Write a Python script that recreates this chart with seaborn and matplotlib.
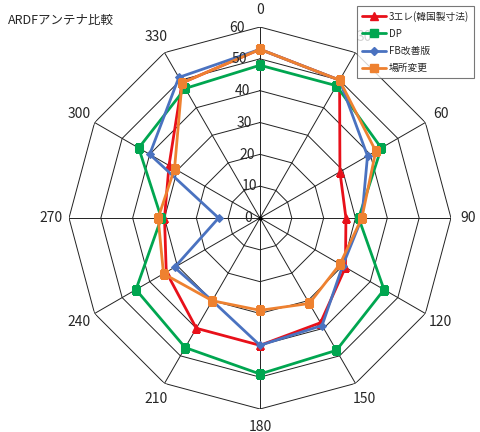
import numpy as np
import pandas as pd
import seaborn as sns
import matplotlib
matplotlib.use("Agg")
import matplotlib.pyplot as plt
from matplotlib.lines import Line2D

# Données (angle en degrés, valeur)
angles_deg = [0, 30, 60, 90, 120, 150, 180, 210, 240, 270, 300, 330]
s_3ele = [53, 50, 29, 27, 31, 38, 40, 40, 34, 30, 33, 49]
s_dp = [48, 48, 44, 31, 45, 48, 49, 47, 45, 31, 44, 47]
s_fb = [53, 50, 39, 32, 30, 39, 40, 30, 31, 13, 40, 51]
s_place = [53, 50, 42, 32, 29, 31, 29, 30, 35, 32, 31, 49]

series_names = ["3エレ(韓国製寸法)", "DP", "FB改善版", "場所変更"]
series_vals = [s_3ele, s_dp, s_fb, s_place]
colors = ["#E8101A", "#00A650", "#4A72C0", "#EE8130"]
markers = ["^", "s", "D", "s"]
msizes = [6, 6, 4, 6]

grid_levels = [0, 10, 20, 30, 40, 50, 60]

sns.set_style("white")
plt.rcParams['font.family'] = ['Noto Sans CJK JP', 'DejaVu Sans']

fig = plt.figure(figsize=(4.8, 4.32), dpi=100)
ax = fig.add_axes([0.14375, 0.0532, 0.7958, 0.8843], projection="polar")
ax.set_theta_zero_location("N")
ax.set_theta_direction(-1)
ax.set_ylim(0, 60)
ax.grid(False)
ax.spines["polar"].set_visible(False)
ax.set_xticks([])
ax.set_yticks([])
ax.patch.set_alpha(0)

theta = np.deg2rad(angles_deg + [360])

# grille polygonale
for lv in grid_levels[1:]:
    ax.plot(theta, [lv] * len(theta), color="#222222", lw=0.7, zorder=1)
for a in theta[:-1]:
    ax.plot([a, a], [0, 60], color="#222222", lw=0.7, zorder=1)
ax.plot([0], [0], "o", color="black", ms=2, zorder=1)

# séries
handles = []
for name, vals, c, m, ms in zip(series_names, series_vals, colors, markers, msizes):
    df = pd.DataFrame({"theta": theta, "r": vals + [vals[0]]})
    sns.lineplot(data=df, x="theta", y="r", sort=False, ax=ax, color=c, lw=2,
                 marker=m, markersize=ms, markeredgecolor=c, legend=False, zorder=3)
    handles.append(Line2D([], [], color=c, lw=2, marker=m, markersize=ms,
                          markeredgecolor=c, label=name))

ax.set_xlabel("")
ax.set_ylabel("")

# étiquettes d'angle
for a, d in zip(theta[:-1], angles_deg):
    ax.text(a, 65.5, str(d), ha="center", va="center", fontsize=10)

# étiquettes radiales
for lv in grid_levels:
    ax.text(np.deg2rad(-4.5) if lv > 0 else np.deg2rad(-90), lv if lv > 0 else 2.5,
            str(lv), ha="right", va="center", fontsize=10)

leg = ax.legend(handles=handles, loc="upper right", bbox_to_anchor=(0.997, 0.998),
                bbox_transform=fig.transFigure, fontsize=7, frameon=True,
                fancybox=False, edgecolor="#555555", handlelength=2.4,
                borderpad=0.5, labelspacing=0.75, handletextpad=0.3, numpoints=1)
leg.get_frame().set_linewidth(0.8)

fig.text(0.017, 0.953, "ARDFアンテナ比較", fontsize=9, ha="left", va="center")

fig.savefig("out.png", dpi=100)
